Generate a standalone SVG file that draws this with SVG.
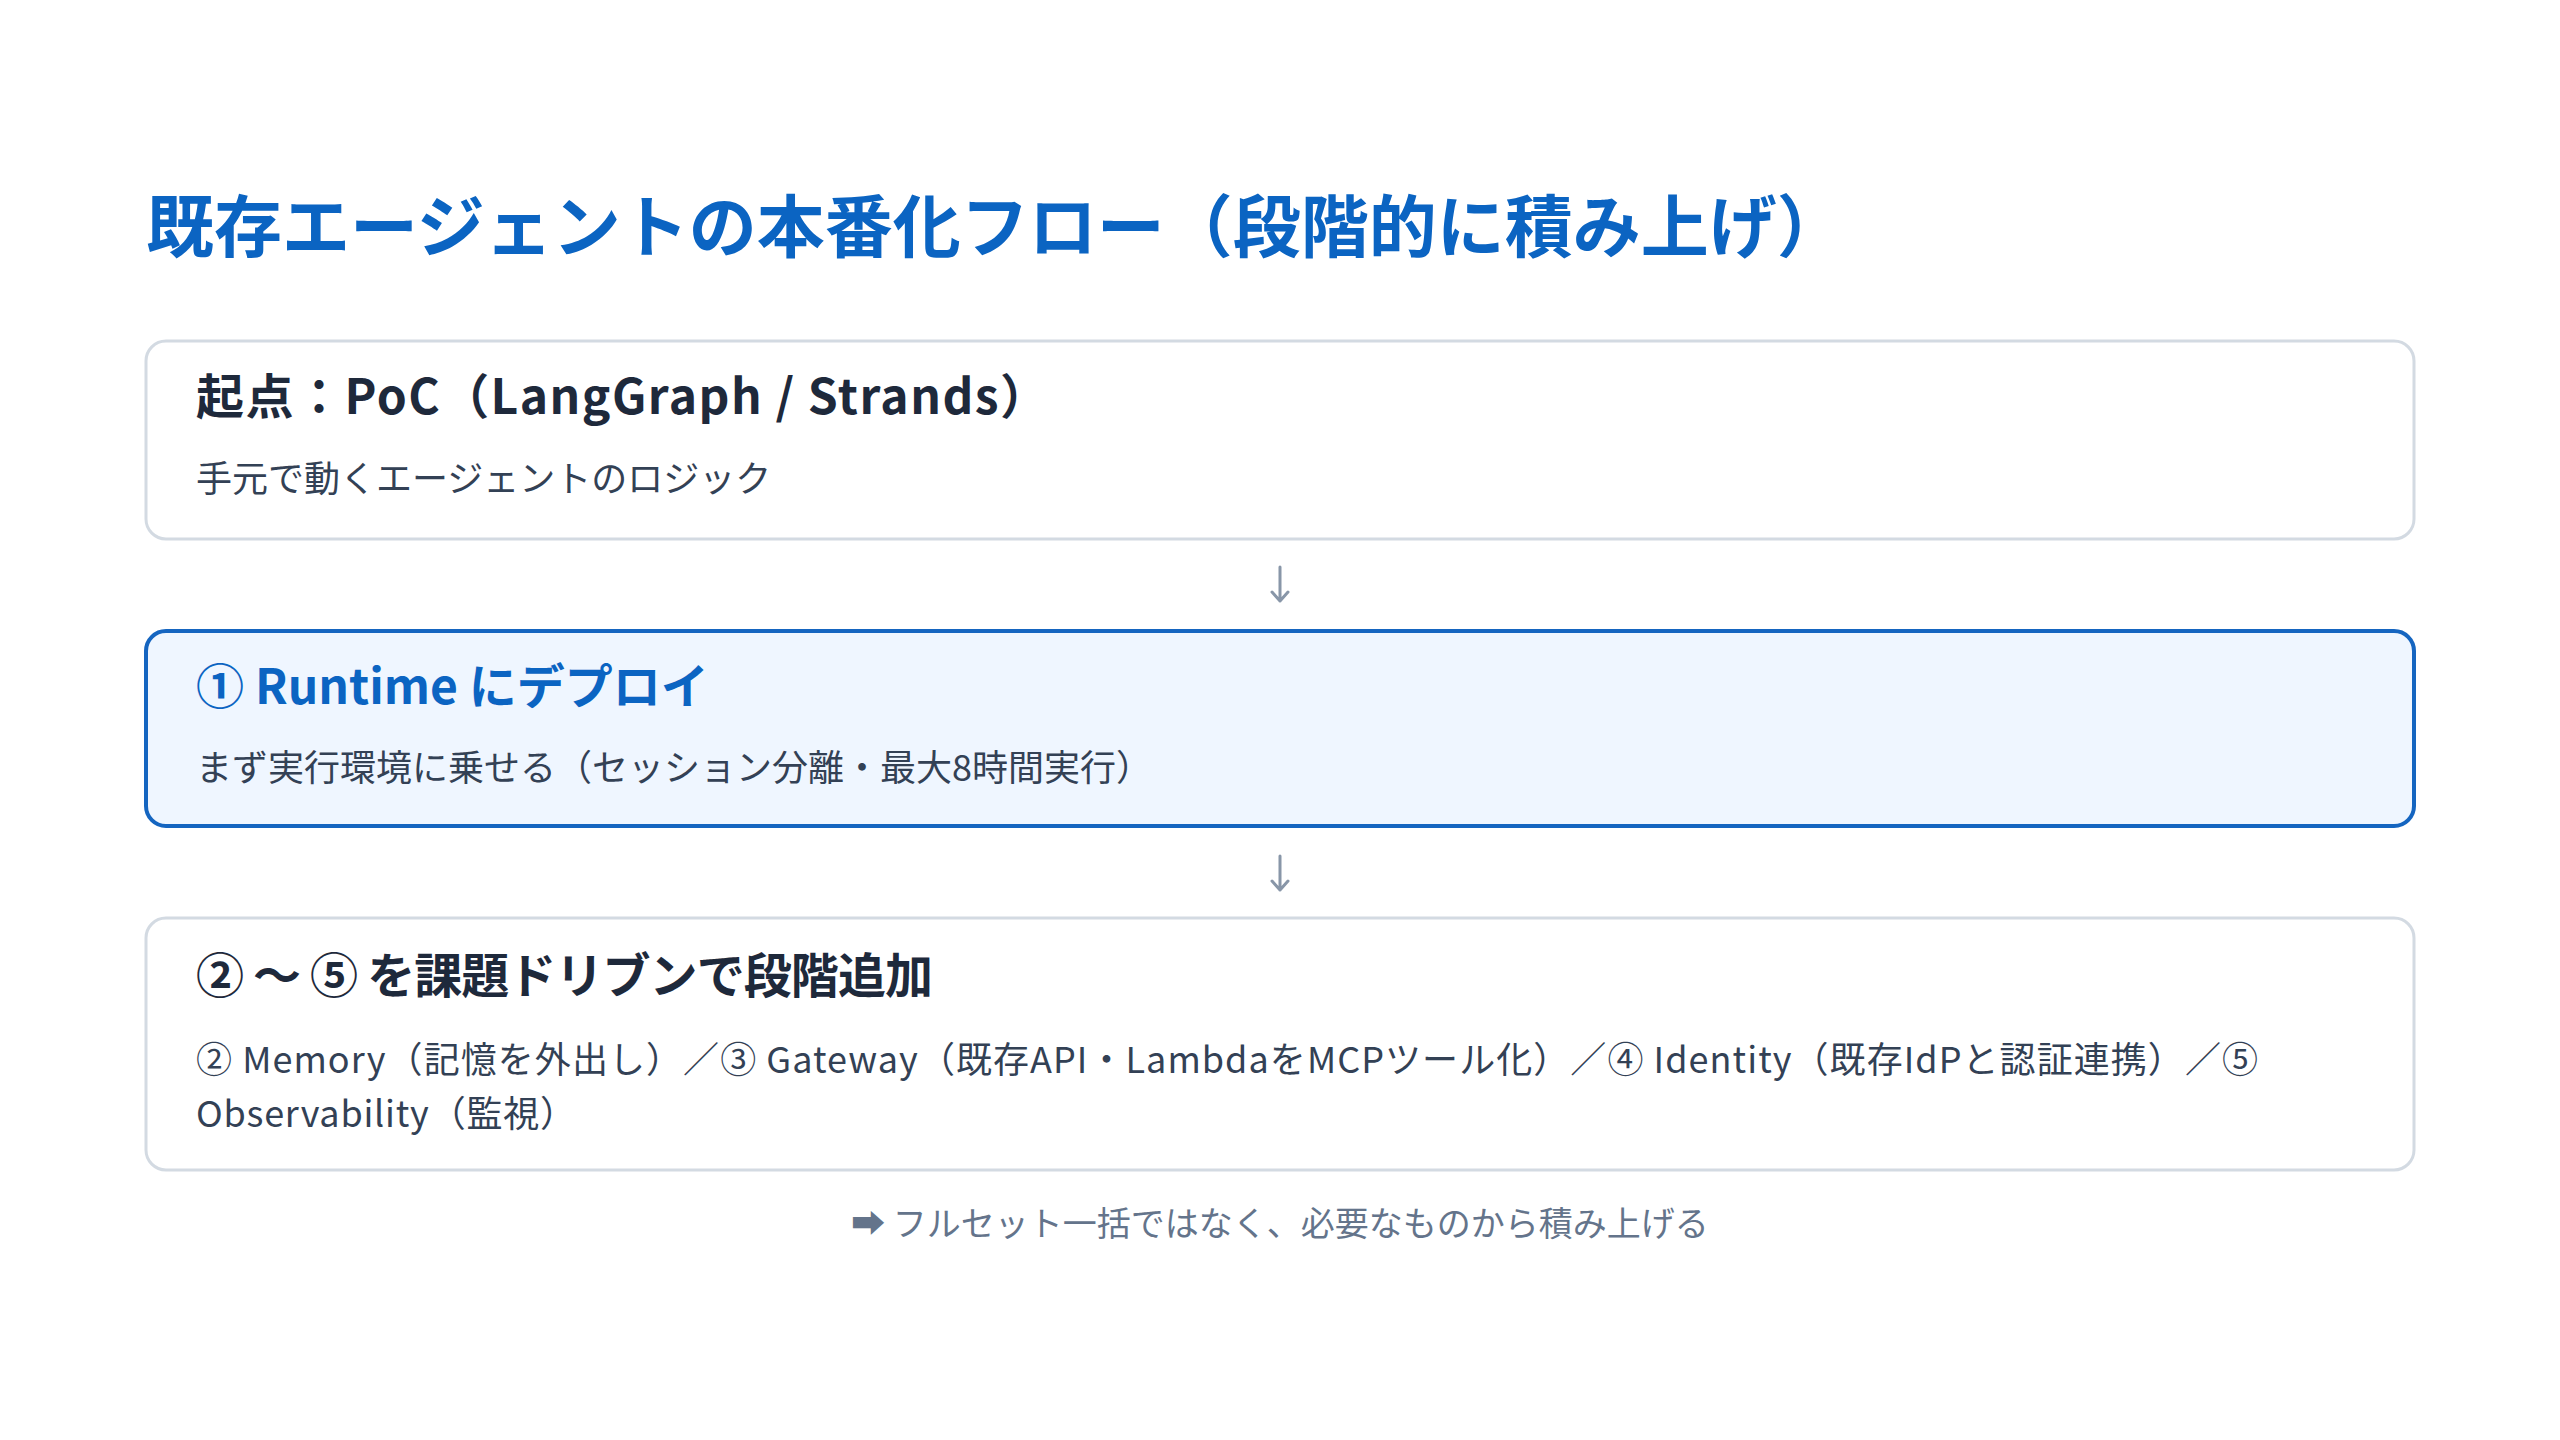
<svg xmlns="http://www.w3.org/2000/svg" width="2560" height="1440" viewBox="0 0 2560 1440">
<style>
text { font-family: "Noto Sans CJK JP", "Noto Sans", sans-serif; }
.title { font-size: 68px; font-weight: 700; fill: #0b64c2; }
.card { fill: #ffffff; stroke: #d3dae2; stroke-width: 3; }
.card-hi { fill: #eff6ff; stroke: #1565c0; stroke-width: 4; }
.h { font-size: 48px; font-weight: 700; fill: #1e293b; }
.h-hi { font-size: 48px; font-weight: 700; fill: #0b64c2; }
.body { font-size: 36px; font-weight: 400; fill: #334155; }
.note { font-size: 34px; font-weight: 400; fill: #64748b; }
.conn { fill: none; stroke: #8896a8; stroke-width: 3; stroke-linecap: round; stroke-linejoin: round; }
</style>
<rect width="2560" height="1440" fill="#ffffff"/>
<text class="title" x="146" y="252">既存エージェントの本番化フロー（段階的に積み上げ）</text>
<g id="node-poc">
<rect class="card" x="146" y="341" width="2268" height="198" rx="20"/>
<text class="h" x="196" y="414" textLength="852" lengthAdjust="spacing">起点：PoC（LangGraph / Strands）</text>
<text class="body" x="196" y="492">手元で動くエージェントのロジック</text>
</g>
<g id="node-runtime">
<rect class="card-hi" x="146" y="631" width="2268" height="195" rx="20"/>
<text class="h-hi" x="196" y="704">① Runtime にデプロイ</text>
<text class="body" x="196" y="781">まず実行環境に乗せる（セッション分離・最大8時間実行）</text>
</g>
<g id="node-incremental">
<rect class="card" x="146" y="918" width="2268" height="252" rx="20"/>
<text class="h" x="196" y="993" textLength="737" lengthAdjust="spacing">② 〜 ⑤ を課題ドリブンで段階追加</text>
<text class="body" x="196" y="1073" textLength="2062" lengthAdjust="spacing">② Memory（記憶を外出し）／③ Gateway（既存API・LambdaをMCPツール化）／④ Identity（既存IdPと認証連携）／⑤</text>
<text class="body" x="196" y="1127" textLength="380" lengthAdjust="spacing">Observability（監視）</text>
</g>
<g id="connectors">
<path class="conn" d="M1280 567 V601 M1272 592 L1280 601 L1288 592"/>
<path class="conn" d="M1280 856 V890 M1272 881 L1280 890 L1288 881"/>
</g>
<g id="footer">
<text class="note" x="1280" y="1236" text-anchor="middle">➡ フルセット一括ではなく、必要なものから積み上げる</text>
</g>
</svg>
